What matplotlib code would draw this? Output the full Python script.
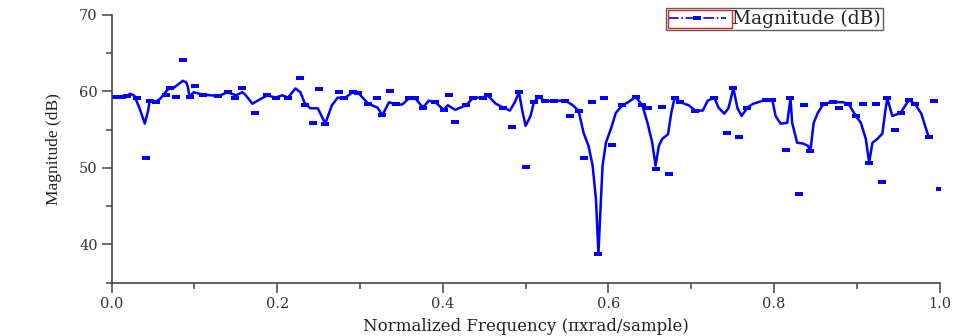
import matplotlib
matplotlib.use("Agg")
import matplotlib.pyplot as plt
from matplotlib.lines import Line2D
from matplotlib.patches import Rectangle
from matplotlib.ticker import MultipleLocator

# ---- data ----
line_freq = [0.000, 0.010, 0.019, 0.022, 0.027, 0.033, 0.040, 0.044, 0.046, 0.053,
             0.059, 0.068, 0.074, 0.080, 0.086, 0.090, 0.092, 0.094, 0.099, 0.110,
             0.129, 0.140, 0.150, 0.158, 0.162, 0.170, 0.178, 0.188, 0.198, 0.206,
             0.213, 0.222, 0.228, 0.233, 0.240, 0.249, 0.258, 0.266, 0.273, 0.281,
             0.291, 0.298, 0.310, 0.321, 0.327, 0.335, 0.343, 0.351, 0.359, 0.366,
             0.376, 0.383, 0.391, 0.401, 0.406, 0.415, 0.428, 0.437, 0.448, 0.454,
             0.464, 0.473, 0.481, 0.487, 0.492, 0.496, 0.500, 0.506, 0.510, 0.516,
             0.524, 0.534, 0.548, 0.557, 0.564, 0.570, 0.576, 0.581, 0.585, 0.588,
             0.591, 0.593, 0.597, 0.603, 0.609, 0.617, 0.624, 0.633, 0.641, 0.647,
             0.653, 0.657, 0.661, 0.665, 0.672, 0.676, 0.680, 0.687, 0.697, 0.705,
             0.714, 0.720, 0.728, 0.733, 0.740, 0.745, 0.751, 0.756, 0.761, 0.768,
             0.775, 0.790, 0.798, 0.802, 0.808, 0.816, 0.820, 0.822, 0.828, 0.835,
             0.841, 0.844, 0.848, 0.853, 0.860, 0.871, 0.883, 0.890, 0.899, 0.905,
             0.911, 0.915, 0.919, 0.925, 0.931, 0.935, 0.937, 0.943, 0.953, 0.963,
             0.971, 0.978, 0.987]
line_db = [59.3, 59.3, 59.4, 59.7, 59.5, 58.0, 55.8, 57.5, 58.8, 58.6,
           59.1, 60.3, 60.4, 60.9, 61.4, 61.2, 60.6, 59.3, 59.9, 59.6,
           59.4, 59.9, 59.5, 59.9, 59.5, 58.4, 58.9, 59.5, 59.2, 59.5,
           59.2, 60.4, 59.9, 58.5, 57.8, 57.8, 55.8, 58.2, 59.2, 59.1,
           59.9, 59.8, 58.4, 57.9, 56.9, 58.6, 58.3, 58.3, 59.1, 59.2,
           57.9, 58.8, 58.6, 57.6, 58.2, 57.6, 58.2, 59.2, 59.2, 59.5,
           58.4, 57.9, 57.5, 58.6, 59.9, 57.5, 55.5, 56.8, 58.6, 59.3,
           58.7, 58.8, 58.8, 58.2, 57.5, 54.6, 52.9, 50.3, 45.9, 38.8,
           45.9, 50.3, 53.3, 55.1, 57.2, 58.2, 58.6, 59.3, 58.2, 56.0,
           53.3, 50.3, 52.9, 53.8, 54.4, 57.2, 59.2, 58.6, 58.2, 57.5,
           57.5, 58.8, 59.2, 57.9, 57.1, 57.8, 60.4, 57.8, 56.8, 57.9,
           58.4, 58.9, 58.9, 56.8, 55.8, 55.9, 59.1, 55.9, 53.3, 53.2,
           52.9, 52.2, 55.9, 57.2, 58.4, 58.6, 58.6, 58.4, 56.8, 55.9,
           53.8, 50.7, 53.3, 53.8, 54.5, 57.8, 59.1, 56.8, 57.2, 58.9,
           58.3, 57.1, 54.0]

marker_freq = [0.005, 0.012, 0.019, 0.031, 0.042, 0.046, 0.053, 0.066, 0.070, 0.078,
               0.086, 0.094, 0.101, 0.110, 0.129, 0.140, 0.149, 0.157, 0.173, 0.188,
               0.198, 0.213, 0.227, 0.234, 0.243, 0.250, 0.258, 0.274, 0.281, 0.291,
               0.298, 0.310, 0.321, 0.327, 0.336, 0.343, 0.359, 0.366, 0.376, 0.391,
               0.401, 0.407, 0.415, 0.428, 0.437, 0.448, 0.454, 0.473, 0.484, 0.492,
               0.500, 0.510, 0.516, 0.524, 0.534, 0.548, 0.554, 0.564, 0.571, 0.580,
               0.588, 0.595, 0.604, 0.617, 0.633, 0.641, 0.648, 0.657, 0.665, 0.673,
               0.680, 0.687, 0.705, 0.728, 0.743, 0.751, 0.758, 0.768, 0.790, 0.798,
               0.815, 0.820, 0.830, 0.836, 0.844, 0.860, 0.871, 0.878, 0.890, 0.899,
               0.907, 0.915, 0.923, 0.931, 0.937, 0.946, 0.953, 0.963, 0.971, 0.987,
               0.993, 1.000]
marker_db = [59.3, 59.3, 59.4, 59.2, 51.3, 58.8, 58.6, 59.6, 60.4, 59.3,
             64.1, 59.3, 60.7, 59.6, 59.4, 59.9, 59.2, 60.4, 57.2, 59.5,
             59.2, 59.2, 61.7, 58.2, 55.9, 60.3, 55.8, 59.9, 59.1, 59.9,
             59.8, 58.4, 59.1, 56.9, 60.0, 58.3, 59.1, 59.2, 57.9, 58.6,
             57.6, 59.5, 56.0, 58.2, 59.2, 59.2, 59.5, 57.9, 55.3, 59.9,
             50.1, 58.6, 59.3, 58.7, 58.8, 58.8, 56.8, 57.5, 51.3, 58.6,
             38.8, 59.1, 53.0, 58.2, 59.3, 58.2, 57.9, 49.9, 58.0, 49.2,
             59.2, 58.6, 57.5, 59.2, 54.6, 60.4, 54.0, 57.9, 58.9, 58.9,
             52.4, 59.1, 46.6, 58.2, 52.2, 58.4, 58.6, 57.9, 58.4, 56.8,
             58.3, 50.7, 58.3, 48.2, 59.1, 54.9, 57.2, 58.9, 58.3, 54.0,
             58.8, 47.2]

x_ticks = [0.0, 0.2, 0.4, 0.6, 0.8, 1.0]
x_ticklabels = ["0.0", "0.2", "0.4", "0.6", "0.8", "1.0"]
y_ticks = [40, 50, 60, 70]
y_ticklabels = ["40", "50", "60", "70"]

series_label = "Magnitude (dB)"
x_label = "Normalized Frequency (\u03c0xrad/sample)"
y_label = "Magnitude (dB)"

# ---- styling ----
blue = "#0000FF"
txt = "#333333"
rect_marker = [(-1.0, -0.55), (1.0, -0.55), (1.0, 0.55), (-1.0, 0.55), (-1.0, -0.55)]

fig = plt.figure(figsize=(9.55, 3.36), dpi=100)
ax = fig.add_axes([111.7 / 955, 1 - 282.7 / 336, (939.5 - 111.7) / 955, (282.7 - 15) / 336])

ax.plot(line_freq, line_db, color=blue, lw=1.8, solid_joinstyle="round")
ax.plot(marker_freq, marker_db, ls="none", marker=rect_marker, ms=6,
        color=blue, markeredgewidth=0)

ax.set_xlim(0.0, 1.0)
ax.set_ylim(35, 70)
ax.set_xticks(x_ticks)
ax.set_xticklabels(x_ticklabels)
ax.set_yticks(y_ticks)
ax.set_yticklabels(y_ticklabels)
ax.xaxis.set_minor_locator(MultipleLocator(0.1))
ax.yaxis.set_minor_locator(MultipleLocator(5))

for s in ["top", "right"]:
    ax.spines[s].set_visible(False)
for s in ["left", "bottom"]:
    ax.spines[s].set_color("#444444")
    ax.spines[s].set_linewidth(1.2)

ax.tick_params(which="major", direction="out", length=7, width=1.1, color="#444444",
               labelsize=10.5, labelcolor=txt, pad=3)
ax.tick_params(which="minor", direction="out", length=4, width=1.1, color="#444444")
for lab in ax.get_xticklabels() + ax.get_yticklabels():
    lab.set_family("DejaVu Serif")

ax.set_xlabel(x_label, family="DejaVu Serif", fontsize=12, color="#222222", labelpad=5)
ax.set_ylabel(y_label, family="Liberation Serif", fontsize=12.5, color="#222222", labelpad=12)

leg_fs = 13.5
handle_len = 3.1
handle = Line2D([], [], color=blue, lw=1.2, ls="-.", marker=rect_marker, ms=6,
                markeredgewidth=0)
leg = fig.legend([handle], [series_label], loc="upper right",
                 bbox_to_anchor=(883 / 955, 1 - 8 / 336), frameon=True,
                 fancybox=False, handlelength=handle_len, handletextpad=0.35,
                 borderpad=0.1, borderaxespad=0,
                 prop={"family": "DejaVu Serif", "size": leg_fs})
leg.get_frame().set_edgecolor("#333333")
leg.get_frame().set_linewidth(1.0)
for t in leg.get_texts():
    t.set_color("#222222")

# red box around the legend handle (as in reference), placed from the legend box
fig.canvas.draw()
bb = leg.get_window_extent(fig.canvas.get_renderer())
hw = handle_len * leg_fs * fig.dpi / 72.0 + 6
fig.add_artist(Rectangle((bb.x0 + 2, bb.y0 + 2), hw, bb.height - 4,
                         transform=None, fill=False, zorder=20,
                         edgecolor="#E02020", lw=1.0))

fig.savefig("out.png", dpi=100)
